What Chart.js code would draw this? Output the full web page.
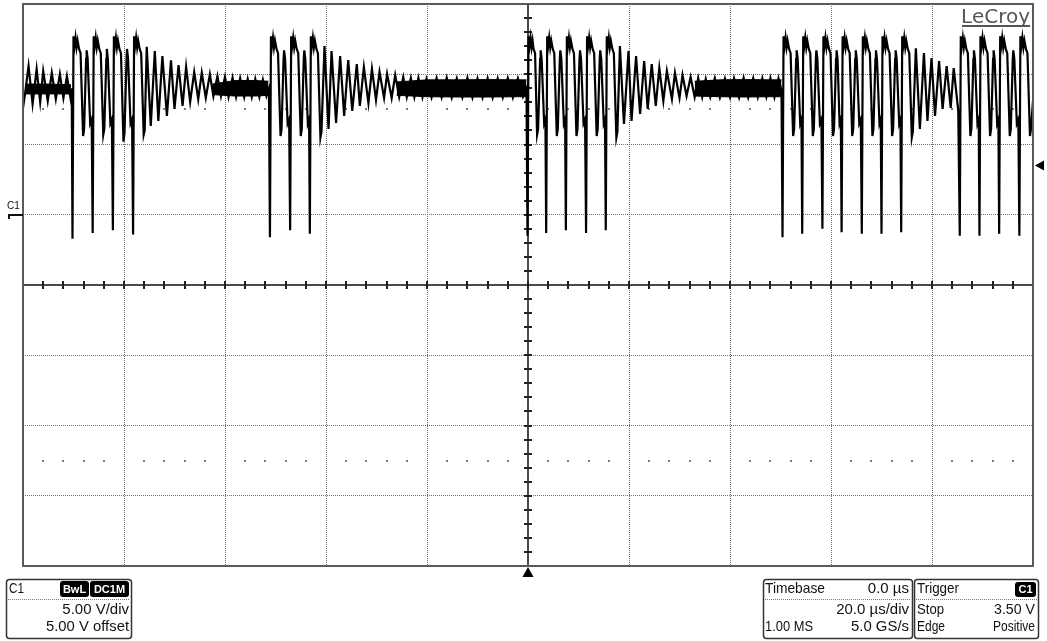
<!DOCTYPE html>
<html><head><meta charset="utf-8">
<script src="https://cdn.jsdelivr.net/npm/chart.js@4.4.1/dist/chart.umd.min.js"></script>
<style>html,body{margin:0;padding:0;background:#fff;overflow:hidden}canvas{display:block}</style>
</head><body>
<canvas id="c" width="1047" height="641"></canvas>
<script>
// ---- Channel C1 trace, [time in µs, volts] ----
const tailA = [[-100,7.6],[-99.6,8.6],[-98.9,10.58],[-98.1,7.88],[-97.3,10.37],[-96.6,8.03],[-96.0,10.23],[-95.1,8.1],[-94.3,10.09],[-93.5,8.24],[-92.7,10.01],[-92.0,8.31],[-91.3,9.87],[-90.6,8.31],[-90.35,9.0]];
const burst1 = [[-90.2,-1.7],[-90.0,12.7],[-89.8,12.0],[-89.6,12.6],[-89.4,11.9],[-89.2,12.4],[-88.9,11.8],[-88.6,11.5],[-88.1,5.6],[-87.9,6.1],[-87.5,11.1],[-87.4,11.7],[-87.2,11.1],[-86.7,6.5],[-86.4,6.8],
[-86.2,-1.3],[-86.0,12.7],[-85.8,12.0],[-85.6,12.6],[-85.4,11.9],[-85.2,12.4],[-84.9,11.8],[-84.6,11.5],[-84.1,5.7],[-83.9,6.1],[-83.5,11.1],[-83.4,11.8],[-83.2,11.1],[-82.7,6.5],[-82.4,6.8],
[-82.2,-1.1],[-82.0,12.7],[-81.8,12.0],[-81.6,12.6],[-81.4,11.9],[-81.2,12.4],[-80.9,11.8],[-80.6,11.5],[-80.1,5.2],[-79.9,5.8],[-79.5,11.1],[-79.4,11.8],[-79.2,11.1],[-78.7,6.5],[-78.4,6.8],
[-78.2,-1.4],[-78.0,12.7],[-77.8,12.0],[-77.6,12.6],[-77.4,11.9],[-77.2,12.4],[-76.9,11.8],[-76.6,11.5],[-76.1,5.7],[-75.9,6.0]];
const decay1 = [[-75.5,11.95],[-74.7,6.32],[-73.9,11.65],[-73.2,6.68],[-72.4,11.29],[-71.5,7.03],[-70.7,10.99],[-70.0,7.53],[-69.2,10.65],[-68.4,7.74],[-67.7,10.53],[-66.9,8.03],[-66.1,10.16],[-65.3,8.22],[-64.6,10.11],[-63.8,8.33],[-63.0,9.99],[-62.3,8.45],[-61.5,9.87],[-60.8,8.45],[-60.0,9.82],[-59.3,8.38],[-58.5,9.75],[-57.8,8.38],[-57.0,9.71],[-56.2,8.38],[-55.5,9.66],[-54.7,8.38],[-54.0,9.66],[-53.2,8.38],[-52.5,9.6],[-51.8,8.45],[-51.3,9.0]];
const burst2 = [[-51.1,-1.6],[-50.9,12.7],[-50.7,12.0],[-50.5,12.6],[-50.3,11.9],[-50.1,12.4],[-49.8,11.8],[-49.5,11.5],[-49.0,5.6],[-48.8,6.1],[-48.4,11.1],[-48.3,11.7],[-48.1,11.1],[-47.6,6.5],[-47.3,6.8],
[-47.1,-1.1],[-46.9,12.7],[-46.7,12.0],[-46.5,12.6],[-46.3,11.9],[-46.1,12.4],[-45.8,11.8],[-45.5,11.5],[-45.0,5.6],[-44.8,6.1],[-44.4,11.1],[-44.3,11.7],[-44.1,11.1],[-43.6,6.5],[-43.35,6.8],
[-43.2,-1.35],[-43.0,12.7],[-42.8,12.0],[-42.6,12.6],[-42.4,11.9],[-42.2,12.4],[-41.9,11.8],[-41.6,11.5],[-41.1,5.5],[-40.9,5.9]];
const decay2 = [[-40.3,12.0],[-39.5,6.11],[-38.9,11.65],[-38.0,6.53],[-37.2,11.29],[-36.4,7.03],[-35.6,11.0],[-34.8,7.39],[-33.9,10.72],[-33.3,7.74],[-32.5,10.51],[-31.6,7.95],[-30.9,10.37],[-30.1,8.17],[-29.4,10.16],[-28.5,8.31],[-27.9,10.01],[-27.0,8.31],[-26.3,9.94],[-25.5,8.38],[-24.7,9.8],[-24.0,8.38],[-23.2,9.73],[-22.5,8.38],[-21.7,9.73],[-20.9,8.38],[-20.1,9.66]];
const idle3 = [[-19.1,8.35],[-18.1,9.72],[-17.1,8.35],[-16.1,9.75],[-15.1,8.33],[-14.1,9.7],[-13.0,8.35],[-12.0,9.75],[-11.0,8.33],[-10.0,9.7],[-9.0,8.35],[-8.0,9.72],[-7.0,8.33],[-6.0,9.7],[-5.0,8.35],[-4.0,9.72],[-3.0,8.35],[-2.0,9.7],[-1.0,8.4],[-0.3,9.0]];
const burst3 = [[-0.1,-1.5],[0.1,12.7],[0.3,12.0],[0.5,12.6],[0.7,11.9],[0.9,12.4],[1.1,11.8],[1.4,11.5],[1.8,5.7],[2.0,6.1],[2.4,11.1],[2.5,11.7],[2.7,11.1],[3.2,6.5],[3.45,6.8],
[3.6,-1.3],[3.8,12.7],[4.0,12.0],[4.2,12.6],[4.4,11.9],[4.6,12.4],[4.9,11.8],[5.2,11.5],[5.7,5.6],[5.9,6.1],[6.3,11.1],[6.4,11.7],[6.6,11.1],[7.1,6.5],[7.35,6.8],
[7.5,-1.1],[7.7,12.7],[7.9,12.0],[8.1,12.6],[8.3,11.9],[8.5,12.4],[8.8,11.8],[9.1,11.5],[9.6,5.6],[9.8,6.1],[10.2,11.1],[10.3,11.7],[10.5,11.1],[11.0,6.5],[11.3,6.8],
[11.5,-1.3],[11.7,12.7],[11.9,12.0],[12.1,12.6],[12.3,11.9],[12.5,12.4],[12.8,11.8],[13.1,11.5],[13.6,5.6],[13.8,6.1],[14.2,11.1],[14.3,11.7],[14.5,11.1],[15.0,6.5],[15.25,6.8],
[15.4,-1.1],[15.6,12.7],[15.8,12.0],[16.0,12.6],[16.2,11.9],[16.4,12.4],[16.7,11.8],[17.0,11.5],[17.5,5.5],[17.7,5.9]];
const decay3 = [[18.2,12.0],[19.0,6.46],[19.9,11.65],[20.5,6.68],[21.4,11.29],[22.2,7.17],[23.0,10.94],[23.7,7.53],[24.5,10.72],[25.3,7.74],[26.0,10.44],[26.8,8.1],[27.5,10.23],[28.5,8.24],[29.1,10.09],[30.0,8.31],[30.6,9.94],[31.4,8.45],[32.2,9.8],[33.0,8.38],[33.7,9.73],[34.5,8.38],[35.2,9.66]];
const idle4 = [[36.1,8.38],[37.0,9.72],[38.0,8.35],[39.0,9.7],[40.0,8.38],[40.8,9.72],[41.8,8.35],[42.7,9.75],[43.6,8.35],[44.6,9.72],[45.5,8.38],[46.4,9.7],[47.2,8.4],[48.0,9.72],[48.8,8.38],[49.6,9.7],[50.2,8.8]];
const burst4a = [[50.4,-1.6],[50.6,12.7],[50.8,12.0],[51.0,12.6],[51.2,11.9],[51.4,12.4],[51.7,11.8],[52.0,11.5],[52.5,5.6],[52.7,6.1],[53.1,11.1],[53.2,11.7],[53.4,11.1],[53.9,6.5],[54.15,6.8],
[54.3,-1.35],[54.5,12.7],[54.7,12.0],[54.9,12.6],[55.1,11.9],[55.3,12.4],[55.6,11.8],[55.9,11.5],[56.4,5.6],[56.6,6.1],[57.0,11.1],[57.1,11.7],[57.3,11.1],[57.8,6.5],[58.1,6.8],
[58.3,-1.0],[58.5,12.7],[58.7,12.0],[58.9,12.6],[59.1,11.9],[59.3,12.4],[59.6,11.8],[59.9,11.5],[60.4,5.6],[60.6,6.1],[61.0,11.1],[61.1,11.7],[61.3,11.1],[61.7,6.5],[61.95,6.8],
[62.1,-1.25],[62.3,12.7],[62.5,12.0],[62.7,12.6],[62.9,11.9],[63.1,12.4],[63.4,11.8],[63.7,11.5],[64.2,5.6],[64.4,6.1],[64.8,11.1],[64.9,11.7],[65.1,11.1],[65.6,6.5],[65.9,6.8],
[66.1,-1.35],[66.3,12.7],[66.5,12.0],[66.7,12.6],[66.9,11.9],[67.1,12.4],[67.4,11.8],[67.7,11.5],[68.2,5.6],[68.4,6.1],[68.8,11.1],[68.9,11.7],[69.1,11.1],[69.6,6.5],[69.85,6.8],
[70.0,-1.35],[70.2,12.7],[70.4,12.0],[70.6,12.6],[70.8,11.9],[71.0,12.4],[71.3,11.8],[71.6,11.5],[72.1,5.6],[72.3,6.1],[72.7,11.1],[72.8,11.7],[73.0,11.1],[73.5,6.5],[73.75,6.8],
[73.9,-1.25],[74.1,12.7],[74.3,12.0],[74.5,12.6],[74.7,11.9],[74.9,12.4],[75.2,11.8],[75.5,11.5],[76.0,5.5],[76.2,5.9]];
const decay4 = [[76.8,11.85],[77.6,6.11],[78.4,11.5],[79.1,6.68],[79.9,11.15],[80.6,7.03],[81.4,10.94],[82.1,7.53],[82.9,10.58],[83.7,7.6],[84.3,10.44],[85.2,7.39]];
const burst4b = [[85.5,-1.5],[85.7,12.7],[85.9,12.0],[86.1,12.6],[86.3,11.9],[86.5,12.4],[86.8,11.8],[87.1,11.5],[87.6,5.6],[87.8,6.1],[88.2,11.1],[88.3,11.7],[88.5,11.1],[89.0,6.5],[89.25,6.8],
[89.4,-1.5],[89.6,12.7],[89.8,12.0],[90.0,12.6],[90.2,11.9],[90.4,12.4],[90.7,11.8],[91.0,11.5],[91.5,5.6],[91.7,6.1],[92.1,11.1],[92.2,11.7],[92.4,11.1],[92.9,6.5],[93.15,6.8],
[93.3,-1.35],[93.5,12.7],[93.7,12.0],[93.9,12.6],[94.1,11.9],[94.3,12.4],[94.6,11.8],[94.9,11.5],[95.4,5.6],[95.6,6.1],[96.0,11.1],[96.1,11.7],[96.3,11.1],[96.8,6.5],[97.1,6.8],
[97.3,-1.5],[97.5,12.7],[97.7,12.0],[97.9,12.6],[98.1,11.9],[98.3,12.4],[98.6,11.8],[98.9,11.5],[99.4,5.6],[99.6,6.1],[100,8.1]];

// ---- dense ringing band (min / max envelope) in the idle stretches ----
const bandTimesA = [-99.5,-95,-90.5];   const bandHiA = [9.3,9.3,9.25];  const bandLoA = [8.6,8.6,8.6];
const bandTimesB = [-62.5,-58,-54,-51.4]; const bandHiB = [9.3,9.55,9.55,9.5]; const bandLoB = [8.55,8.45,8.45,8.5];
const bandTimesC = [-26,-20,-14,-8,-2,-0.3]; const bandHiC = [9.45,9.6,9.6,9.62,9.6,9.6]; const bandLoC = [8.5,8.4,8.38,8.38,8.4,8.4];
const bandTimesD = [33,38,43,48,50.2]; const bandHiD = [9.5,9.6,9.62,9.6,9.6]; const bandLoD = [8.45,8.4,8.38,8.4,8.4];

// ---- scope settings ----
const timeRange = [-100, 100];   // µs, 20 µs/div
const voltRange = [-25, 15];     // V, 5 V/div, ground marker at 0 V
const triggerLevel = 3.5;        // V
const triggerTime = 0;           // µs

const trace = [].concat(tailA, burst1, decay1, burst2, decay2, idle3, burst3, decay3, idle4, burst4a, decay4, burst4b);
const toXY = a => a.map(p => ({x: p[0], y: p[1]}));

const datasets = [{
  data: toXY(trace), borderColor: '#000', borderWidth: 2.2, pointRadius: 0, tension: 0, fill: false
}];
[[bandTimesA,bandHiA,bandLoA],[bandTimesB,bandHiB,bandLoB],[bandTimesC,bandHiC,bandLoC],[bandTimesD,bandHiD,bandLoD]].forEach(([t,hi,lo]) => {
  const idx = datasets.length;
  datasets.push({data: t.map((v,i)=>({x:v,y:hi[i]})), borderColor:'#000', borderWidth:1, backgroundColor:'#000', pointRadius:0, fill: idx+1});
  datasets.push({data: t.map((v,i)=>({x:v,y:lo[i]})), borderColor:'#000', borderWidth:1, pointRadius:0, fill:false});
});

function rr(ctx, x, y, w, h, r) {
  ctx.beginPath();
  ctx.moveTo(x+r, y); ctx.lineTo(x+w-r, y); ctx.quadraticCurveTo(x+w, y, x+w, y+r);
  ctx.lineTo(x+w, y+h-r); ctx.quadraticCurveTo(x+w, y+h, x+w-r, y+h);
  ctx.lineTo(x+r, y+h); ctx.quadraticCurveTo(x, y+h, x, y+h-r);
  ctx.lineTo(x, y+r); ctx.quadraticCurveTo(x, y, x+r, y); ctx.closePath();
}

const scopePlugin = {
  id: 'scope',
  beforeDatasetsDraw(chart) {
    const {ctx, chartArea: ca, scales: {x: xs, y: ys}} = chart;
    ctx.save();
    // dot rows at +/- 2.5 div
    ctx.fillStyle = '#7a7a7a';
    for (const v of [7.5, -17.5]) {
      const py = Math.round(ys.getPixelForValue(v));
      for (let t = -96; t < 100; t += 4) {
        if (t % 20 === 0) continue;
        const px = Math.round(xs.getPixelForValue(t));
        ctx.fillRect(px - 1, py - 1, 2, 2);
      }
    }
    // centre crosshair
    const x0 = Math.round(xs.getPixelForValue(0));
    const y0 = Math.round(ys.getPixelForValue(-5));
    ctx.fillStyle = '#4a4a4a';
    ctx.fillRect(ca.left, y0 - 1, ca.width, 2);
    ctx.fillRect(x0 - 1, ca.top, 2, ca.height);
    ctx.fillStyle = '#222';
    for (let t = -96; t < 100; t += 4) {
      const px = Math.round(xs.getPixelForValue(t));
      ctx.fillRect(px - 1, y0 - 4, 2, 8);
    }
    for (let v = -24; v < 15; v += 1) {
      if (v === -5) continue;
      const py = Math.round(ys.getPixelForValue(v));
      ctx.fillRect(x0 - 4, py - 1, 8, 2);
    }
    ctx.restore();
  },
  afterDraw(chart) {
    const {ctx, chartArea: ca, scales: {x: xs, y: ys}} = chart;
    ctx.save();
    // frame
    ctx.strokeStyle = '#5a5a5a'; ctx.lineWidth = 2;
    ctx.strokeRect(ca.left, ca.top, ca.width, ca.height);
    // trigger level marker (right)
    const ty = ys.getPixelForValue(triggerLevel);
    ctx.fillStyle = '#000';
    ctx.beginPath(); ctx.moveTo(ca.right + 2, ty); ctx.lineTo(ca.right + 11, ty - 5); ctx.lineTo(ca.right + 11, ty + 5); ctx.closePath(); ctx.fill();
    // trigger time marker (bottom)
    const tx = xs.getPixelForValue(triggerTime);
    ctx.beginPath(); ctx.moveTo(tx, ca.bottom + 1); ctx.lineTo(tx - 5.5, ca.bottom + 11); ctx.lineTo(tx + 5.5, ca.bottom + 11); ctx.closePath(); ctx.fill();
    // C1 ground marker
    const gy = Math.round(ys.getPixelForValue(0));
    ctx.fillStyle = '#111';
    ctx.font = '10px "Liberation Sans", Arial, sans-serif';
    ctx.textAlign = 'left'; ctx.textBaseline = 'alphabetic';
    ctx.fillText('C1', 7, gy - 6);
    ctx.fillRect(8, gy - 1, ca.left - 8, 2);
    ctx.fillRect(8, gy - 1, 2, 5);
    // LeCroy logo
    ctx.fillStyle = '#555';
    ctx.font = '20px "DejaVu Sans", sans-serif';
    ctx.textAlign = 'right';
    ctx.fillText('LeCroy', 1030, 23);
    ctx.fillRect(962, 25, 68, 2);

    // info boxes
    const boxes = [[6, 579, 125, 59], [763, 579, 149, 59], [914, 579, 124, 59]];
    ctx.strokeStyle = '#333'; ctx.lineWidth = 1.5;
    boxes.forEach(([x,y,w,h]) => { rr(ctx, x + 0.5, y + 0.5, w, h, 3); ctx.stroke(); });
    ctx.save();
    ctx.strokeStyle = '#777'; ctx.lineWidth = 1; ctx.setLineDash([1,1]);
    boxes.forEach(([x,y,w]) => { ctx.beginPath(); ctx.moveTo(x + 2, 599.5); ctx.lineTo(x + w - 1, 599.5); ctx.stroke(); });
    ctx.restore();

    // badges
    const badge = (x, y, w, h, label) => {
      ctx.fillStyle = '#000'; rr(ctx, x, y, w, h, 3); ctx.fill();
      ctx.fillStyle = '#fff'; ctx.font = 'bold 11px "Liberation Sans", Arial, sans-serif';
      ctx.textAlign = 'center'; ctx.fillText(label, x + w / 2, y + h - 4, w - 3);
    };
    badge(60, 581, 29, 16, 'BwL');
    badge(90, 581, 39, 16, 'DC1M');
    badge(1015, 582, 21, 15, 'C1');

    ctx.fillStyle = '#111';
    ctx.font = '15px "Liberation Sans", Arial, sans-serif';
    const L = (s, x, y, mw) => { ctx.textAlign = 'left'; mw ? ctx.fillText(s, x, y, mw) : ctx.fillText(s, x, y); };
    const R = (s, x, y, mw) => { ctx.textAlign = 'right'; mw ? ctx.fillText(s, x, y, mw) : ctx.fillText(s, x, y); };
    L('C1', 9, 593, 15);
    R('5.00 V/div', 129, 614, 67);
    R('5.00 V offset', 129, 631, 83);
    L('Timebase', 765, 593, 60);
    R('0.0 \u00b5s', 909, 593);
    R('20.0 \u00b5s/div', 909, 614);
    L('1.00 MS', 765, 631, 48);
    R('5.0 GS/s', 909, 631, 58);
    L('Trigger', 917, 593, 42);
    L('Stop', 917, 614, 27);
    R('3.50 V', 1035, 614, 41);
    L('Edge', 917, 631, 28);
    R('Positive', 1035, 631, 42);
    ctx.restore();
  }
};

new Chart(document.getElementById('c'), {
  type: 'line',
  data: {datasets},
  options: {
    responsive: false, animation: false, events: [],
    layout: {padding: {left: 23, top: 4, right: 14, bottom: 75}},
    plugins: {legend: {display: false}, tooltip: {enabled: false}, title: {display: false}},
    scales: {
      x: {type: 'linear', min: timeRange[0], max: timeRange[1],
          ticks: {display: false, stepSize: 20},
          grid: {color: '#707070', lineWidth: 1, drawTicks: false},
          border: {display: false, dash: [1, 1]}},
      y: {type: 'linear', min: voltRange[0], max: voltRange[1],
          ticks: {display: false, stepSize: 5},
          grid: {color: '#707070', lineWidth: 1, drawTicks: false},
          border: {display: false, dash: [1, 1]}}
    }
  },
  plugins: [scopePlugin]
});
</script></body></html>
